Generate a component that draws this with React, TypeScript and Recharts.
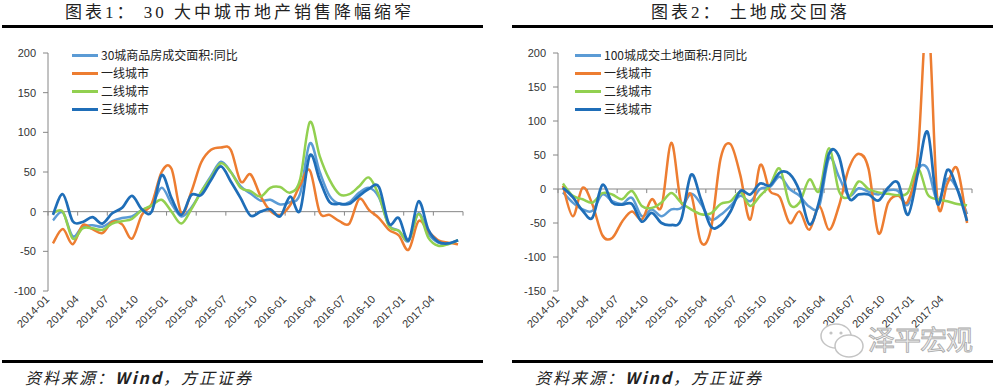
import { LineChart, Line, XAxis, YAxis, ReferenceLine, Legend } from 'recharts'

const months = [
  '2014-01', '2014-02', '2014-03', '2014-04', '2014-05', '2014-06', '2014-07', '2014-08', '2014-09', '2014-10', '2014-11', '2014-12',
  '2015-01', '2015-02', '2015-03', '2015-04', '2015-05', '2015-06', '2015-07', '2015-08', '2015-09', '2015-10', '2015-11', '2015-12',
  '2016-01', '2016-02', '2016-03', '2016-04', '2016-05', '2016-06', '2016-07', '2016-08', '2016-09', '2016-10', '2016-11', '2016-12',
  '2017-01', '2017-02', '2017-03', '2017-04', '2017-05', '2017-06',
]

// 图表1: 30大中城市商品房成交面积同比 (%)
const sales30 = [-11, -1, -31, -19, -17, -19, -12, -8, -6, 2, 8, 30, 10, -6, 5, 25, 45, 63, 50, 32, 23, 14, 15, 9, 12, 22, 86, 50, 20, 10, 12, 24, 30, 18, -17, -24, -37, -2, -28, -39, -40, -36]
const salesTier1 = [-40, -22, -41, -17, -22, -27, -13, -16, -34, -4, 10, 50, 54, -2, 25, 62, 78, 81, 78, 38, 47, 20, 1, -4, 8, 33, 52, -1, -4, -12, -15, 16, 2, -8, -23, -30, -48, -12, -25, -36, -39, -41]
const salesTier2 = [-2, 0, -34, -21, -21, -23, -15, -12, -9, 2, 8, 15, 0, -15, 3, 25, 43, 61, 50, 30, 26, 19, 30, 31, 24, 40, 113, 70, 40, 22, 22, 32, 43, 20, -18, -24, -36, -3, -33, -43, -41, -36]
const salesTier3 = [-4, 22, -12, -13, -7, -15, -2, 5, 20, 3, 0, 46, 17, -4, 21, 21, 40, 57, 38, 17, -5, 0, 3, -6, 19, 1, 71, 40, 12, 10, 10, 20, 29, 31, -15, -8, -36, 13, -23, -38, -40, -36]
const salesTicks = [-100, -50, 0, 50, 100, 150, 200]

// 图表2: 100城成交土地面积月同比 (%)
const land100 = [-5, -20, -30, -32, -8, -18, -22, -13, -40, -30, -40, -30, -28, -7, -22, -45, -38, -25, -10, -18, 0, 3, 18, 0, -10, -26, -25, 45, 18, -10, 1, -4, -8, -2, -3, -23, 28, 30, -18, 15, 0, -37]
const landTier1 = [5, -40, 2, -23, -68, -72, -48, -33, -45, -15, -26, 68, -20, -8, -78, -60, 45, 66, 20, -45, 35, -3, -12, -50, -33, -60, -25, -60, -25, 30, 52, 30, -65, -20, -10, -18, 50, 260, -18, 8, 30, -50]
const landTier2 = [8, -10, -15, -20, -6, -8, -15, -3, -25, -28, -20, -6, -20, -30, -37, -36, -22, -18, -5, -25, -10, 5, 30, -22, -20, 14, -3, 60, -3, -12, 11, 0, -5, -7, -9, -5, 31, -8, -15, -18, -22, -24]
const landTier3 = [2, -12, -32, -42, 6, -20, -23, -22, -48, -35, -50, -53, -45, 21, -15, -55, -53, -33, -3, -8, 8, 5, 24, 22, -3, -52, -18, 52, 48, -13, -8, -8, -17, 2, 9, -38, 23, 84, -22, 28, 0, -47]
const landTicks = [-150, -100, -50, 0, 50, 100, 150, 200]

const salesNames = ['30城商品房成交面积:同比', '一线城市', '二线城市', '三线城市']
const landNames = ['100城成交土地面积:月同比', '一线城市', '二线城市', '三线城市']
const colors = ['#5B9BD5', '#ED7D31', '#92D050', '#1F6EB8']

const cjk = "'Noto Sans CJK SC', 'Noto Sans', sans-serif"
const axisFont = "'Liberation Sans', Arial, sans-serif"
const axisGrey = '#868686'

// label every 3rd month, small tick marks on the zero line at the same spots
const labelTicks = months.map((_, i) => i).filter(i => i % 3 === 0)
const markTicks = [...labelTicks, months.length]

// Excel-like smoothed line: bezier through each point, handles at 1/6 of neighbour chord
const excelSmooth = (ctx: any) => {
  let pts: number[][] = []
  return {
    areaStart() {},
    areaEnd() {},
    lineStart() { pts = [] },
    point(x: number, y: number) { pts.push([+x, +y]) },
    lineEnd() {
      if (!pts.length) return
      ctx.moveTo(pts[0][0], pts[0][1])
      for (let i = 1; i < pts.length; i++) {
        const p0 = pts[Math.max(i - 2, 0)]
        const p1 = pts[i - 1]
        const p2 = pts[i]
        const p3 = pts[Math.min(i + 1, pts.length - 1)]
        ctx.bezierCurveTo(
          p1[0] + (p2[0] - p0[0]) / 6, p1[1] + (p2[1] - p0[1]) / 6,
          p2[0] - (p3[0] - p1[0]) / 6, p2[1] - (p3[1] - p1[1]) / 6,
          p2[0], p2[1]
        )
      }
    },
  }
}

const MonthTick = ({ x, y, payload }: any) => {
  const ax = x + 2
  const ay = y + 1
  return (
    <text
      x={ax}
      y={ay}
      transform={`rotate(-45 ${ax} ${ay})`}
      textAnchor="end"
      fontSize={11}
      fill="#333"
      fontFamily={axisFont}
    >
      {months[payload.value]}
    </text>
  )
}

const LegendBox = ({ payload }: any) => (
  <div style={{ fontFamily: cjk, fontSize: 12, color: '#222', lineHeight: '18px' }}>
    {(payload || []).map((p: any) => (
      <div key={p.value} style={{ display: 'flex', alignItems: 'center', whiteSpace: 'nowrap' }}>
        <span style={{ display: 'inline-block', width: 26, height: 3, background: p.color, marginRight: 3 }} />
        {p.value}
      </div>
    ))}
  </div>
)

type PanelProps = {
  series: number[][]
  names: string[]
  yTicks: number[]
  marginLeft: number
  marginRight: number
  legendLeft: number
  markLen: number
}

function Panel({ series, names, yTicks, marginLeft, marginRight, legendLeft, markLen }: PanelProps) {
  const rows = months.map((m, i) => ({
    x: i + 0.5,
    month: m,
    s0: series[0][i],
    s1: series[1][i],
    s2: series[2][i],
    s3: series[3][i],
  }))

  return (
    <LineChart width={500} height={360} data={rows} margin={{ top: 53, right: marginRight, bottom: 0, left: marginLeft }}>
      <XAxis
        type="number"
        dataKey="x"
        domain={[0, months.length]}
        ticks={labelTicks}
        interval={0}
        axisLine={false}
        tickLine={false}
        height={69}
        tick={<MonthTick />}
      />
      <YAxis
        domain={[yTicks[0], yTicks[yTicks.length - 1]]}
        ticks={yTicks}
        interval={0}
        allowDataOverflow
        width={40}
        stroke={axisGrey}
        tickSize={5}
        tickMargin={7}
        tick={{ fill: '#333', fontSize: 11, fontFamily: axisFont }}
      />
      <ReferenceLine y={0} stroke={axisGrey} />
      {markTicks.map(t => (
        <ReferenceLine key={t} segment={[{ x: t, y: 0 }, { x: t, y: -markLen }]} stroke={axisGrey} />
      ))}
      <Legend
        layout="vertical"
        align="center"
        verticalAlign="middle"
        itemSorter="dataKey"
        wrapperStyle={{ top: 46, left: legendLeft, width: 'auto' }}
        content={LegendBox}
      />
      {names.map((n, i) => (
        <Line
          key={n + i}
          dataKey={`s${i}`}
          name={n}
          stroke={colors[i]}
          strokeWidth={i === 3 ? 2.75 : 2.5}
          dot={false}
          activeDot={false}
          type={excelSmooth as any}
          isAnimationActive={false}
        />
      ))}
    </LineChart>
  )
}

const titleStyle: any = {
  position: 'absolute',
  top: 2,
  fontSize: 17,
  lineHeight: '22px',
  letterSpacing: 3,
  whiteSpace: 'pre',
  color: '#222',
  fontFamily: "'Liberation Serif', 'Noto Sans CJK SC', serif",
}

const sourceStyle: any = {
  position: 'absolute',
  top: 367,
  fontSize: 16,
  lineHeight: '20px',
  letterSpacing: 2,
  fontStyle: 'italic',
  whiteSpace: 'pre',
  color: '#222',
  fontFamily: cjk,
}

const rule = (left: number, top: number): any => ({
  position: 'absolute', left, top, width: 481, height: 3, background: '#000',
})

export default function App() {
  return (
    <div style={{ position: 'relative', width: 1000, height: 388, background: '#fff', overflow: 'hidden', fontFamily: cjk }}>
      <style>{'body{margin:0}'}</style>

      <div style={{ ...titleStyle, left: 65 }}>图表1： 30 大中城市地产销售降幅缩窄</div>
      <div style={{ ...titleStyle, left: 651 }}>图表2： 土地成交回落</div>
      <div style={rule(2, 25)} />
      <div style={rule(512, 25)} />

      <div style={{ position: 'absolute', left: 0, top: 0 }}>
        <Panel
          series={[sales30, salesTier1, salesTier2, salesTier3]}
          names={salesNames}
          yTicks={salesTicks}
          marginLeft={8}
          marginRight={37}
          legendLeft={72}
          markLen={5}
        />
      </div>
      <div style={{ position: 'absolute', left: 500, top: 0 }}>
        <Panel
          series={[land100, landTier1, landTier2, landTier3]}
          names={landNames}
          yTicks={landTicks}
          marginLeft={18}
          marginRight={28}
          legendLeft={75}
          markLen={6}
        />
      </div>

      {/* watermark */}
      <svg style={{ position: 'absolute', left: 816, top: 321 }} width={52} height={40}>
        <ellipse cx={20} cy={15} rx={15} ry={12} fill="#fff" stroke="#c4c4c4" strokeWidth={1.5} />
        <ellipse cx={33} cy={25} rx={14} ry={11} fill="#fff" stroke="#c4c4c4" strokeWidth={1.5} />
        <circle cx={15} cy={12} r={1.6} fill="#c4c4c4" />
        <circle cx={25} cy={12} r={1.6} fill="#c4c4c4" />
      </svg>
      <div
        style={{
          position: 'absolute', left: 868, top: 321, fontSize: 27, lineHeight: '36px', letterSpacing: -1,
          color: '#ececec', WebkitTextStroke: '0.8px #a8a8a8', fontFamily: cjk,
        }}
      >
        泽平宏观
      </div>

      <div style={rule(2, 360)} />
      <div style={rule(512, 360)} />
      <div style={{ ...sourceStyle, left: 25 }}>资料来源：<b>Wind</b>，方正证券</div>
      <div style={{ ...sourceStyle, left: 535 }}>资料来源：<b>Wind</b>，方正证券</div>
    </div>
  )
}
